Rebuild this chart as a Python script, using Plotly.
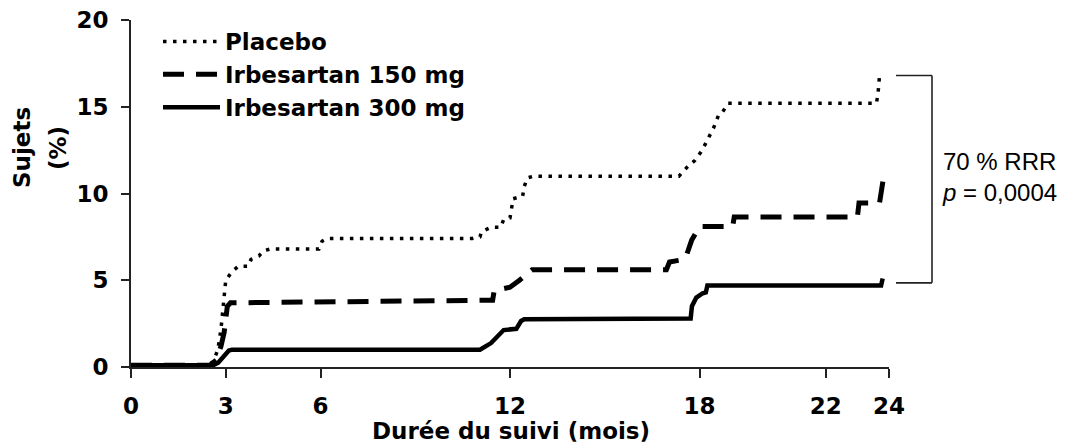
import plotly.graph_objects as go

# ---- data (months, % of subjects) ----
placebo_t = [0, 2.4, 2.6, 2.75, 2.85, 2.92, 3.0, 3.2, 3.4, 3.7, 3.8, 4.05, 4.2, 4.4, 5.95, 6.05, 6.2,
             10.8, 11.05, 11.1, 11.4, 11.7, 11.8, 12.0, 12.05, 12.1, 12.4, 12.45, 12.55, 12.75,
             17.35, 17.5, 17.65, 17.85, 18.05, 18.2, 18.35, 18.45, 18.6, 18.7, 18.9, 23.6, 23.65, 23.7]
placebo_v = [0.1, 0.1, 0.3, 1.0, 2.2, 3.6, 5.0, 5.5, 5.8, 5.8, 6.2, 6.4, 6.7, 6.8, 6.8, 7.25, 7.4,
             7.4, 7.5, 7.8, 8.05, 8.05, 8.5, 8.6, 9.2, 9.7, 9.85, 10.4, 10.9, 11.0,
             11.0, 11.3, 11.6, 11.9, 12.4, 12.9, 13.4, 13.8, 14.5, 14.6, 15.2, 15.2, 15.7, 16.8]

irb150_t = [0, 2.5, 2.7, 2.85, 2.95, 3.0, 3.05, 3.15, 11.45, 11.5, 12.0, 12.3, 12.6, 12.7,
            16.95, 17.05, 17.5, 17.6, 17.75, 18.0, 19.05, 19.1, 23.0, 23.05, 23.7, 23.75, 23.85]
irb150_v = [0.1, 0.1, 0.4, 1.2, 2.0, 3.0, 3.5, 3.7, 3.85, 4.4, 4.6, 5.0, 5.45, 5.6,
            5.6, 6.05, 6.2, 6.5, 7.3, 8.1, 8.1, 8.65, 8.65, 9.45, 9.45, 10.2, 11.2]

irb300_t = [0, 2.6, 2.76, 2.9, 3.1, 3.2, 11.05, 11.4, 11.6, 11.8, 12.2, 12.35, 12.45,
            17.72, 17.76, 17.9, 18.1, 18.2, 18.25, 23.75, 23.8]
irb300_v = [0.1, 0.1, 0.25, 0.55, 0.95, 1.0, 1.0, 1.38, 1.8, 2.13, 2.2, 2.65, 2.75,
            2.8, 3.5, 4.0, 4.25, 4.3, 4.7, 4.7, 5.1]

series_names = ["Placebo", "Irbesartan 150 mg", "Irbesartan 300 mg"]
x_ticks = [0, 3, 6, 12, 18, 22, 24]
y_ticks = [0, 5, 10, 15, 20]
x_title = "Durée du suivi (mois)"
y_title = ["Sujets", "(%)"]
stat_text = "70 % RRR<br><i>p</i> = 0,0004"

BOLD = dict(family="DejaVu Sans", size=23, color="#000", weight="bold")

fig = go.Figure()
fig.add_trace(go.Scatter(x=placebo_t, y=placebo_v, mode="lines", name=series_names[0],
                         line=dict(color="#000", width=3.5, dash="3.5px,6.5px")))
fig.add_trace(go.Scatter(x=irb150_t, y=irb150_v, mode="lines", name=series_names[1],
                         line=dict(color="#000", width=5, dash="21px,12px")))
fig.add_trace(go.Scatter(x=irb300_t, y=irb300_v, mode="lines", name=series_names[2],
                         line=dict(color="#000", width=4.5)))

# page body has an 8px margin: figure origin sits at screen (8, 8)
OFF = 8
SCR_W, SCR_H = 1069, 443
W, H = SCR_W - OFF, SCR_H - OFF
# plot area in screen pixels: x 131..889, y 20..367
L = 131 - OFF
T = 20 - OFF
R = W - (889 - OFF)
B = H - (367 - OFF)
pw, ph = W - L - R, H - T - B

def px_x(p):  # screen px -> paper
    return (p - OFF - L) / pw

def px_y(p):
    return (H - B - (p - OFF)) / ph

fig.update_layout(
    width=W, height=H,
    margin=dict(l=L, r=R, t=T, b=B, autoexpand=False),
    paper_bgcolor="white", plot_bgcolor="white",
    showlegend=True,
    legend=dict(x=px_x(158), y=px_y(20), xanchor="left", yanchor="top",
                font=BOLD, itemwidth=57, tracegroupgap=0,
                bgcolor="rgba(0,0,0,0)", borderwidth=0),
    xaxis=dict(range=[0, 24], tickvals=x_ticks, ticktext=[str(v) for v in x_ticks],
               automargin=False, ticklabeloverflow="allow",
               showgrid=False, zeroline=False, showline=True, linecolor="#222", linewidth=2,
               ticks="outside", ticklen=9, tickwidth=2, tickcolor="#222",
               tickfont=BOLD, ticklabelstandoff=8),
    yaxis=dict(range=[0, 20], tickvals=y_ticks, automargin=False, ticklabeloverflow="allow",
               showgrid=False, zeroline=False, showline=True, linecolor="#222", linewidth=2,
               ticks="outside", ticklen=8, tickwidth=2, tickcolor="#222",
               tickfont=BOLD, ticklabelstandoff=8),
)

# x-axis title
fig.add_annotation(xref="paper", yref="paper", x=px_x(511), y=px_y(431), text=x_title,
                   showarrow=False, font=BOLD, xanchor="center", yanchor="middle")

# y-axis title (two rotated lines)
fig.add_annotation(xref="paper", yref="paper", x=px_x(22), y=px_y(148), text=y_title[0],
                   textangle=-90, showarrow=False, font=BOLD, xanchor="center", yanchor="middle")
fig.add_annotation(xref="paper", yref="paper", x=px_x(58), y=px_y(148), text=y_title[1],
                   textangle=-90, showarrow=False, font=BOLD, xanchor="center", yanchor="middle")

# bracket between placebo end and 300 mg end
top_v = placebo_v[-1]
bot_v = 4.85
bx0, bx1 = px_x(896), px_x(932)
ytop, ybot = top_v / 20, bot_v / 20
for (x0, y0, x1, y1) in [(bx0, ytop, bx1, ytop), (bx1, ytop, bx1, ybot), (bx0, ybot, bx1, ybot)]:
    fig.add_shape(type="line", xref="paper", yref="paper", x0=x0, y0=y0, x1=x1, y1=y1,
                  line=dict(color="#222", width=1.6))

fig.add_annotation(xref="paper", yref="paper", x=px_x(940), y=px_y(177), text=stat_text,
                   showarrow=False, xanchor="left", yanchor="middle", align="left",
                   font=dict(family="Arial, Liberation Sans, sans-serif", size=24, color="#000"))

fig.write_html("out.html")
